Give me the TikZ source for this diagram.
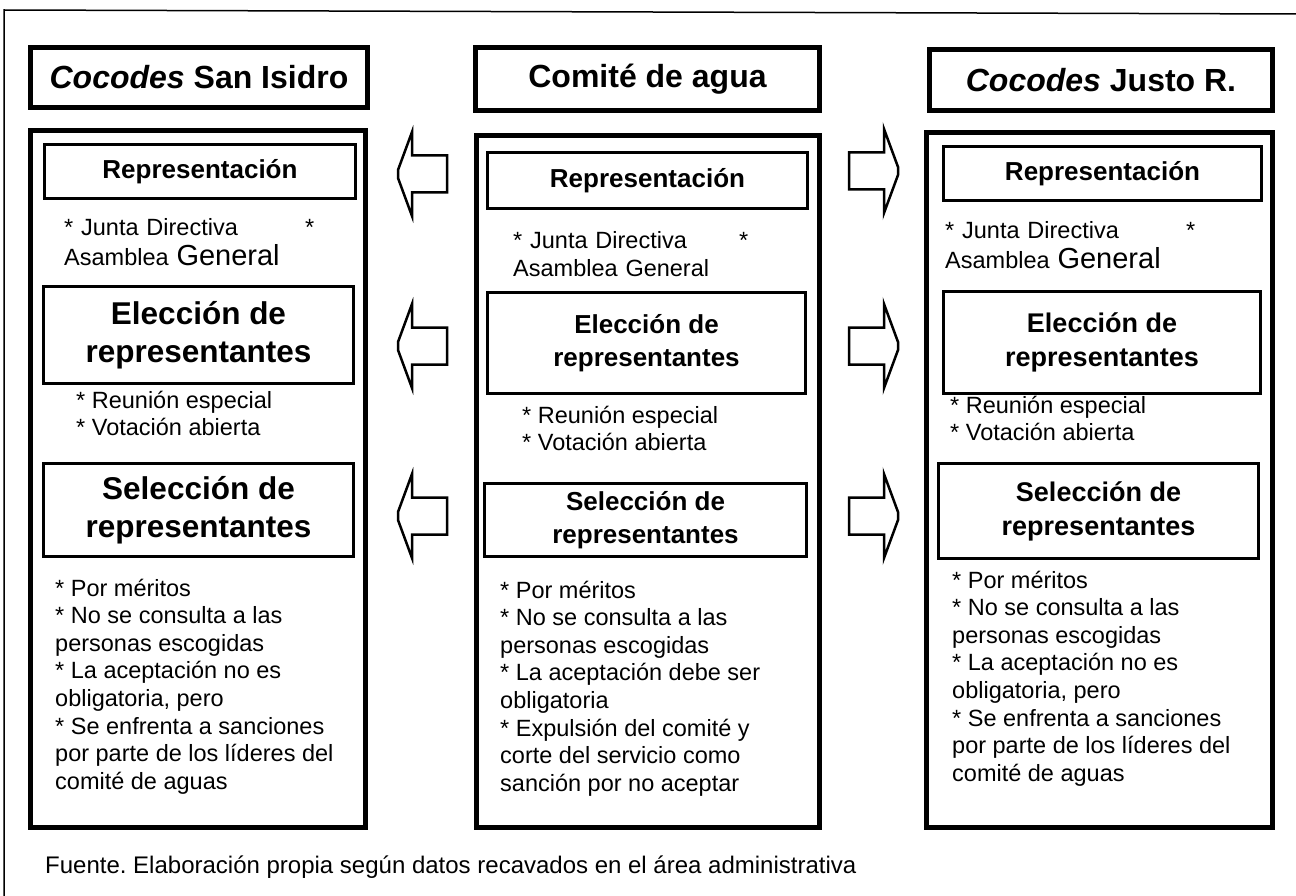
\documentclass[tikz,border=0pt]{standalone}
\usepackage{fontspec}
\setmainfont{Liberation Sans}
\frenchspacing

\tikzset{
  header/.style={draw, line width=5pt, inner sep=0pt, font=\fontsize{32}{36}\selectfont\bfseries},
  column/.style={draw, line width=5pt, inner sep=0pt},
  subbox/.style={draw, line width=3pt, inner sep=0pt, align=center},
  notes/.style={anchor=west, inner sep=0pt, align=left, font=\fontsize{23.5}{27.6}\selectfont},
  larrow/.pic={\draw [line width=2.5pt, line join=miter] (-24,-4) -- (-10,-42) -- (-10,-18.5) -- (25,-18.5)
    -- (25,18.5) -- (-10,18.5) -- (-10,42) -- (-24,4) -- cycle;},
  rarrow/.pic={\draw [line width=2.5pt, line join=miter] (24,-4) -- (10,-42) -- (10,-18.5) -- (-25,-18.5)
    -- (-25,18.5) -- (10,18.5) -- (10,42) -- (24,4) -- cycle;}
}
\newcommand{\bigbf}{\fontsize{31.5}{38}\selectfont\bfseries}
\newcommand{\midbf}{\fontsize{26}{33}\selectfont\bfseries}

\begin{document}
\begin{tikzpicture}[x=1pt, y=-1pt]
\useasboundingbox (0,0) rectangle (1296,896);
\draw [line width=1.5pt] (4,900) -- (4,10) -- (1300,14);

\node [header, minimum width=337, minimum height=60] (hdL) at (199,77.5) {\textit{Cocodes} San Isidro};
\node [header, minimum width=344, minimum height=63] (hdC) at (647.5,79) {Comité de agua};
\node [header, minimum width=343, minimum height=61] (hdR) at (1101,80) {\textit{Cocodes} Justo R.};

\node [column, minimum width=335, minimum height=697] (colL) at (198,479) {};
\node [column, minimum width=343, minimum height=692] (colC) at (648,481.5) {};
\node [column, minimum width=346, minimum height=695] (colR) at (1099.5,480) {};

\node [subbox, minimum width=311, minimum height=54, font=\midbf] (repL) at (200,171.5) {Representación};
\node [notes, text width=250] (junL) at (64,242) {* Junta Directiva\hfill*\\[2pt]Asamblea {\fontsize{29}{30}\selectfont General}};
\node [subbox, minimum width=310, minimum height=97, font=\bigbf] (eleL) at (198.5,335) {Elección de\\representantes};
\node [notes] (reuL) at (76,413.5) {* Reunión especial\\* Votación abierta};
\node [subbox, minimum width=310, minimum height=93, font=\bigbf] (selL) at (198.5,510) {Selección de\\representantes};
\node [notes] (bulL) at (55,686.5) {* Por méritos\\* No se consulta a las\\personas escogidas\\* La aceptación no es\\obligatoria, pero\\* Se enfrenta a sanciones\\por parte de los líderes del\\comité de aguas};

\node [subbox, minimum width=320, minimum height=56, font=\midbf] (repC) at (647.5,180.5) {Representación};
\node [notes, text width=235] (junC) at (513,254) {* Junta Directiva\hfill*\\Asamblea General};
\node [subbox, minimum width=318, minimum height=101, font=\midbf] (eleC) at (646.5,343) {Elección de\\representantes};
\node [notes] (reuC) at (522,428.5) {* Reunión especial\\* Votación abierta};
\node [subbox, minimum width=322, minimum height=73, font=\midbf] (selC) at (645.5,520) {Selección de\\representantes};
\node [notes] (bulC) at (500,688.5) {* Por méritos\\* No se consulta a las\\personas escogidas\\* La aceptación debe ser\\obligatoria\\* Expulsión del comité y\\corte del servicio como\\sanción por no aceptar};

\node [subbox, minimum width=318, minimum height=54, font=\midbf] (repR) at (1102.5,173.5) {Representación};
\node [notes, text width=250] (junR) at (945,245) {* Junta Directiva\hfill*\\[2pt]Asamblea {\fontsize{29}{30}\selectfont General}};
\node [subbox, minimum width=317, minimum height=102, font=\fontsize{27}{34}\selectfont\bfseries] (eleR) at (1102,342.5) {Elección de\\representantes};
\node [notes] (reuR) at (950,418.5) {* Reunión especial\\* Votación abierta};
\node [subbox, minimum width=320, minimum height=95, font=\fontsize{27}{34}\selectfont\bfseries] (selR) at (1098.5,511) {Selección de\\representantes};
\node [notes] (bulR) at (952,678.5) {* Por méritos\\* No se consulta a las\\personas escogidas\\* La aceptación no es\\obligatoria, pero\\* Se enfrenta a sanciones\\por parte de los líderes del\\comité de aguas};

\coordinate (arrL1) at (422,174);
\coordinate (arrL2) at (422,346);
\coordinate (arrL3) at (422,516);
\coordinate (arrR1) at (874,171);
\coordinate (arrR2) at (874,346);
\coordinate (arrR3) at (874,516);
\pic at (arrL1) {larrow};
\pic at (arrL2) {larrow};
\pic at (arrL3) {larrow};
\pic at (arrR1) {rarrow};
\pic at (arrR2) {rarrow};
\pic at (arrR3) {rarrow};

\node [anchor=west, inner sep=0pt, font=\fontsize{24}{28}\selectfont] (src) at (45,867) {Fuente. Elaboración propia según datos recavados en el área administrativa};
\end{tikzpicture}
\end{document}
